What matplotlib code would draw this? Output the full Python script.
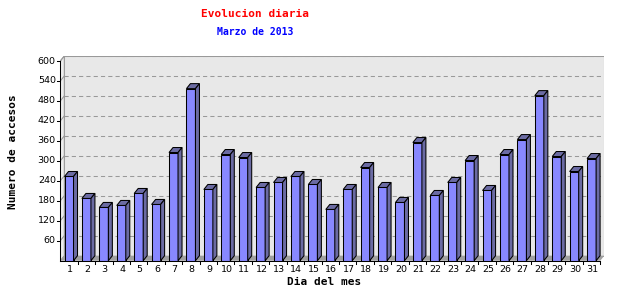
import matplotlib
matplotlib.use("Agg")
import matplotlib.pyplot as plt
from matplotlib.patches import Polygon, Rectangle

# datos
dias = [str(d) for d in range(1, 32)]
accesos = [253, 187, 160, 166, 202, 169, 325, 517, 214, 319,
           310, 220, 235, 253, 229, 154, 214, 280, 220, 175,
           355, 196, 235, 301, 211, 319, 364, 496, 313, 268, 307]
yticks = [60, 120, 180, 240, 300, 360, 420, 480, 540, 600]

W, H = 640, 300
fig = plt.figure(figsize=(W / 100, H / 100), dpi=100)
fig.patch.set_facecolor("white")

# ejes en pixeles: frente de x=60.3 a 600, y=0 en 260.7, 600 en 61
x0, x1 = 60.3, 604.3
ytop, ybot = 56.0, 260.7
ax = fig.add_axes([x0 / W, (H - ybot) / H, (x1 - x0) / W, (ybot - ytop) / H])
n = len(accesos)
px_x = (600.0 - x0) / n          # pixeles por categoria
px_y = (ybot - 61.0) / 600.0     # pixeles por unidad
ddx = 4.0 / px_x
ddy = 5.0 / px_y
ax.set_xlim(-0.5, n - 0.5 + ddx)
ax.set_ylim(0, 600 + ddy)
ax.axis("off")

lw = 0.75
gris = "#999999"
# pared del fondo y pared izquierda
ax.add_patch(Polygon([(-0.5 + ddx, ddy), (n - 0.5 + ddx, ddy), (n - 0.5 + ddx, 600 + ddy),
                      (-0.5 + ddx, 600 + ddy)], closed=True, facecolor="#e8e8e8",
                     edgecolor=gris, lw=lw, zorder=1))
ax.add_patch(Polygon([(-0.5, 0), (-0.5 + ddx, ddy), (-0.5 + ddx, 600 + ddy), (-0.5, 600)],
                     closed=True, facecolor="#eeeeee", edgecolor=gris, lw=lw, zorder=1))
# suelo
ax.add_patch(Polygon([(-0.5, 0), (n - 0.5, 0), (n - 0.5 + ddx, ddy), (-0.5 + ddx, ddy)],
                     closed=True, facecolor="#a0a0a0", edgecolor="none", zorder=1.5))

# rejilla
for v in yticks:
    ax.plot([-0.5 + ddx, n - 0.5 + ddx], [v + ddy, v + ddy], color=gris, lw=lw,
            dashes=(4, 3), zorder=1.2)
    ax.plot([-0.5, -0.5 + ddx], [v, v + ddy], color=gris, lw=lw, zorder=1.2)

# barras 3D
w = 9.0 / px_x
for i, v in enumerate(accesos):
    l, r = i - w / 2, i + w / 2
    ax.add_patch(Rectangle((l, 0), w, v, facecolor="#8888ff", edgecolor="black", lw=lw, zorder=3))
    ax.add_patch(Polygon([(l, v), (r, v), (r + ddx, v + ddy), (l + ddx, v + ddy)], closed=True,
                         facecolor="#6b6ba3", edgecolor="black", lw=lw, zorder=3))
    ax.add_patch(Polygon([(r, 0), (r + ddx, ddy), (r + ddx, v + ddy), (r, v)], closed=True,
                         facecolor="#6b6ba3", edgecolor="black", lw=lw, zorder=3))

# ejes frontales
ax.plot([-0.5, n - 0.5], [0, 0], color="black", lw=lw, zorder=4, clip_on=False)
ax.plot([-0.5, -0.5], [0, 600], color="black", lw=lw, zorder=4, clip_on=False)
for v in yticks:
    ax.plot([-0.5 - 3.0 / px_x, -0.5], [v, v], color="black", lw=lw, clip_on=False)
    ax.text(-0.5 - 4.5 / px_x, v, str(v), ha="right", va="center", fontsize=6.8,
            family="DejaVu Sans")
for i in range(n):
    ax.plot([i + 0.5, i + 0.5], [0, -3.0 / px_y], color="black", lw=lw, clip_on=False)
for i, d in enumerate(dias):
    ax.text(i + 0.05, -9.0 / px_y, d, ha="center", va="center", fontsize=6.8,
            family="DejaVu Sans")

# textos
fig.text(255 / W, 1 - 14 / H, "Evolucion diaria", color="red", ha="center", va="center",
         fontsize=8, family="DejaVu Sans Mono", weight="bold")
fig.text(255 / W, 1 - 32 / H, "Marzo de 2013", color="blue", ha="center", va="center",
         fontsize=7, family="DejaVu Sans Mono", weight="bold")
fig.text(12.7 / W, 1 - 152 / H, "Numero de accesos", rotation=90, ha="center", va="center",
         fontsize=8, family="DejaVu Sans Mono", weight="bold")
fig.text(324 / W, 1 - 281.7 / H, "Dia del mes", ha="center", va="center",
         fontsize=8, family="DejaVu Sans Mono", weight="bold")

fig.savefig("out.png", dpi=100)
